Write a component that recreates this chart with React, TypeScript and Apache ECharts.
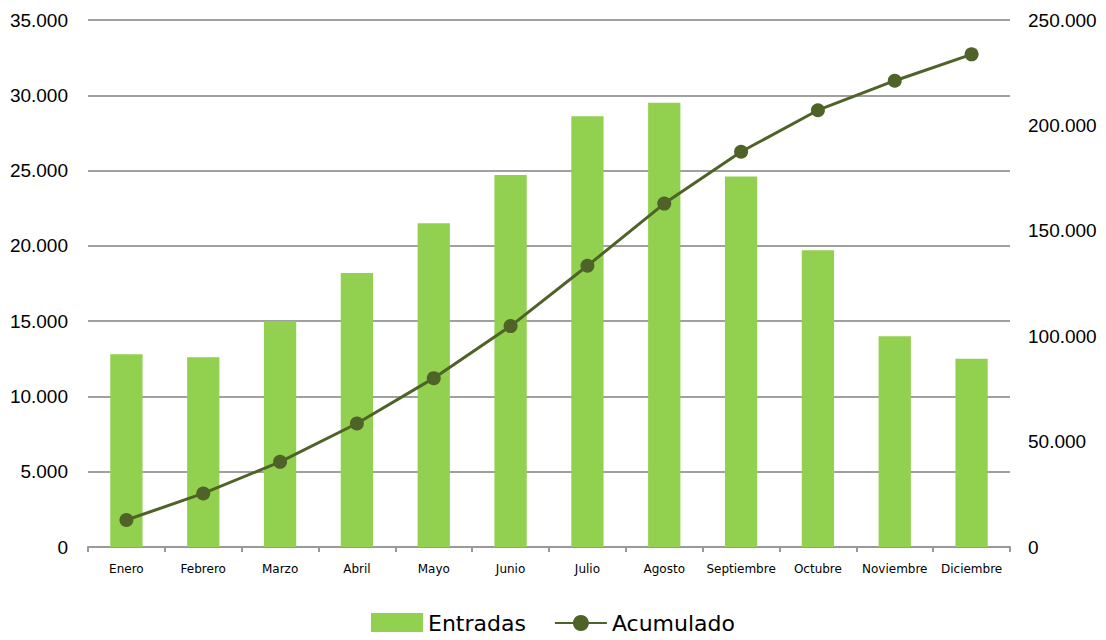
import React, { useEffect, useRef } from "react";
import * as echarts from "echarts";

const categories = ["Enero", "Febrero", "Marzo", "Abril", "Mayo", "Junio", "Julio", "Agosto", "Septiembre", "Octubre", "Noviembre", "Diciembre"];
const entradas = [12800, 12600, 15000, 18200, 21500, 24700, 28600, 29500, 24600, 19700, 14000, 12500];
const acumulado = [12800, 25400, 40400, 58600, 80100, 104800, 133400, 162900, 187500, 207200, 221200, 233700];

const fmt = (v: number) => (v === 0 ? "0" : v.toLocaleString("de-DE"));

export default function App() {
  const ref = useRef<HTMLDivElement>(null);
  useEffect(() => {
    if (!ref.current) return;
    const chart = echarts.init(ref.current, undefined, { renderer: "svg" });
    chart.setOption({
      animation: false,
      grid: { left: 88, right: 96, top: 20, bottom: 93 },
      legend: {
        bottom: 1,
        left: "center",
        itemWidth: 52,
        itemHeight: 20,
        itemGap: 28,
        textStyle: { fontFamily: "DejaVu Sans", fontSize: 22, color: "#000" },
        data: [
          { name: "Entradas", icon: "rect" },
          { name: "Acumulado" },
        ],
      },
      xAxis: {
        type: "category",
        data: categories,
        axisLine: { lineStyle: { color: "#999", width: 2 } },
        axisTick: { show: true, length: 5, lineStyle: { color: "#999", width: 2 } },
        axisLabel: { fontFamily: "DejaVu Sans", fontSize: 12, color: "#000", margin: 16, interval: 0 },
      },
      yAxis: [
        {
          type: "value",
          min: 0,
          max: 35000,
          interval: 5000,
          axisLine: { show: false },
          axisTick: { show: false },
          splitLine: { lineStyle: { color: "#A0A0A0", width: 2 } },
          axisLabel: { fontFamily: "Liberation Sans", fontSize: 19, color: "#000", margin: 20, formatter: fmt },
        },
        {
          type: "value",
          min: 0,
          max: 250000,
          interval: 50000,
          position: "right",
          axisLine: { show: false },
          axisTick: { show: false },
          splitLine: { show: false },
          axisLabel: { fontFamily: "Liberation Sans", fontSize: 19, color: "#000", margin: 18, formatter: fmt },
        },
      ],
      series: [
        {
          name: "Entradas",
          type: "bar",
          data: entradas,
          barWidth: "42%",
          itemStyle: { color: "#92D050" },
          yAxisIndex: 0,
        },
        {
          name: "Acumulado",
          type: "line",
          data: acumulado,
          yAxisIndex: 1,
          symbol: "circle",
          symbolSize: 14,
          lineStyle: { color: "#4F6228", width: 3 },
          itemStyle: { color: "#4F6228" },
        },
      ],
    });
    return () => chart.dispose();
  }, []);
  return <div ref={ref} style={{ width: 1106, height: 640, margin: -8 }} />;
}
